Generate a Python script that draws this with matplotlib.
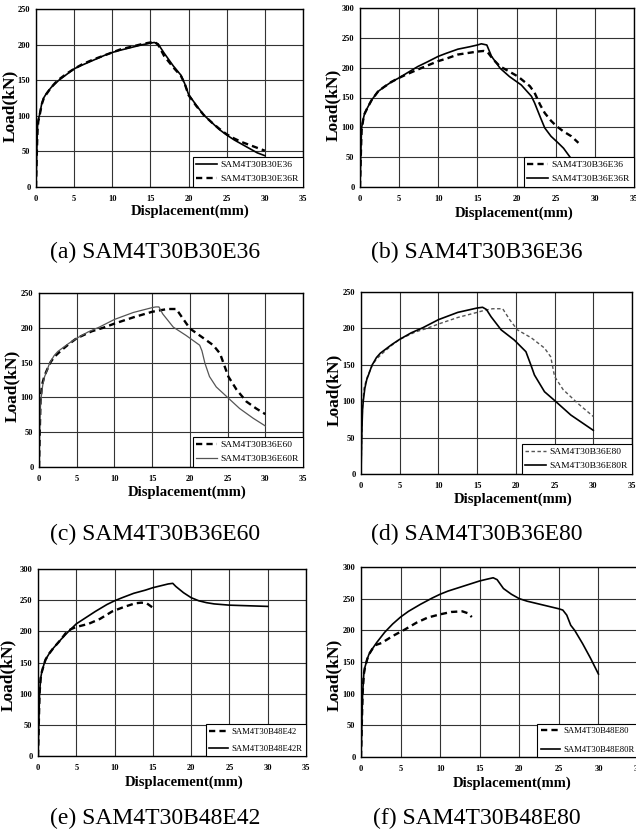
import matplotlib.pyplot as plt

plt.rcParams['font.family'] = ['Liberation Serif', 'DejaVu Serif']
plt.rcParams['lines.scale_dashes'] = False

X_TICKS = [0, 5, 10, 15, 20, 25, 30, 35]

# (a) SAM4T30B30E36
a_names = ["SAM4T30B30E36", "SAM4T30B30E36R"]
a_disp = [0, 0.1, 0.2, 0.3, 0.5, 0.75, 1, 1.4, 2, 2.5, 3, 4, 5, 6, 7.5, 9, 10, 11, 12.5,
          14, 15, 15.5, 16, 16.8, 18, 19, 19.5, 20, 21, 22, 23, 24, 25, 26, 27, 28, 29, 30]
a_load = [0, 50, 85, 94, 103, 117, 125, 132, 140, 145, 150, 158, 166, 171, 178, 185, 189, 192, 196,
          200, 202, 203, 201, 188, 170, 157, 145, 130, 115, 101, 91, 81, 73, 66, 60, 54, 48, 44]
a_disp_r = a_disp
a_load_r = [0, 45, 80, 92, 102, 116, 124, 131, 140, 146, 151, 159, 166, 172, 179, 185, 189, 193, 197,
            201, 203, 204, 200, 184, 168, 156, 145, 129, 114, 101, 91, 82, 74, 68, 63, 59, 55, 51]

# (b) SAM4T30B36E36
b_names = ["SAM4T30B36E36", "SAM4T30B36E36R"]
b_disp = [0, 0.1, 0.2, 0.4, 0.6, 1, 1.5, 2.3, 3, 4, 5, 6, 7.4, 8.5, 10, 11, 12.5, 14, 15, 15.8,
          16.3, 17, 17.9, 19, 20.2, 21.7, 22.3, 23, 23.6, 24.4, 25.1, 26, 27, 27.9]
b_load = [0, 50, 95, 112, 123, 134, 146, 160, 167, 176, 183, 189, 197, 203, 211, 215, 222, 225, 227, 228,
          226, 214, 202, 194, 185, 169, 158, 138, 124, 111, 102, 93, 85, 74]
b_disp_r = [0, 0.1, 0.2, 0.4, 0.6, 1, 1.5, 2.3, 3, 4, 5, 6, 7.4, 8.5, 10, 11, 12.5, 14, 15, 15.5,
            16.2, 16.8, 17.9, 19.1, 20.6, 21.9, 22.3, 23, 23.6, 24.4, 25.3, 26, 27, 28]
b_load_r = [0, 55, 99, 113, 124, 134, 146, 160, 167, 176, 183, 191, 202, 209, 219, 224, 231, 235, 238, 240,
            238, 219, 199, 185, 171, 152, 141, 118, 99, 85, 74, 65, 47, 32]

# (c) SAM4T30B36E60
c_names = ["SAM4T30B36E60", "SAM4T30B36E60R"]
c_disp = [0, 0.1, 0.2, 0.4, 0.7, 1, 1.5, 2, 3, 4, 5, 6, 7, 8.5, 10, 12.5, 15, 16, 17, 18.2,
          18.9, 20, 21.3, 23.1, 24, 24.4, 25.1, 26.2, 27.5, 28.8, 30]
c_load = [0, 50, 95, 118, 130, 138, 150, 158, 168, 177, 185, 190, 195, 200, 206, 215, 223, 225, 227, 227,
          216, 199, 189, 175, 163, 151, 130, 111, 94, 84, 76]
c_disp_r = [0, 0.1, 0.2, 0.3, 0.5, 0.75, 1, 1.4, 2, 2.5, 3, 4, 5, 6.5, 8, 10, 12.5, 15, 15.5, 15.9,
            16.4, 17.8, 19.5, 21.3, 21.6, 22, 22.6, 23.5, 25.1, 26.6, 28.4, 30]
c_load_r = [0, 55, 88, 101, 118, 130, 137, 149, 160, 166, 170, 178, 185, 194, 201, 212, 222, 229, 230, 230,
            220, 201, 189, 175, 167, 149, 130, 115, 99, 84, 70, 59]

# (d) SAM4T30B36E80
d_names = ["SAM4T30B36E80", "SAM4T30B36E80R"]
d_disp = [0, 0.1, 0.2, 0.4, 0.7, 1, 1.5, 2, 3, 4, 5, 6, 7, 8.5, 10, 12.5, 15, 16, 17, 18.3,
          19.2, 20.2, 22, 23.7, 24.5, 25, 26.1, 28, 30]
d_load = [0, 50, 95, 118, 130, 138, 150, 158, 168, 177, 185, 190, 195, 200, 206, 215, 222, 225, 227, 227,
          212, 198, 187, 173, 161, 134, 116, 97, 79]
d_disp_r = [0, 0.1, 0.2, 0.3, 0.5, 0.75, 1, 1.4, 2, 2.5, 3, 4, 5, 6.5, 8, 10, 12.5, 15, 15.7, 16.2,
            16.8, 18.1, 19.8, 21.3, 22, 22.4, 23.7, 25, 27.1, 30]
d_load_r = [0, 55, 88, 101, 118, 130, 137, 149, 160, 166, 170, 178, 185, 194, 201, 212, 222, 228, 229, 226,
            216, 198, 184, 168, 148, 136, 113, 101, 81, 60]

# (e) SAM4T30B48E42
e_names = ["SAM4T30B48E42", "SAM4T30B48E42R"]
e_disp = [0, 0.1, 0.2, 0.35, 0.5, 0.8, 1, 1.5, 2, 3, 3.8, 4.4, 5, 6.6, 8.1, 9.7, 11.2, 12.7,
          13.5, 14.2, 15.1]
e_load = [0, 50, 100, 125, 135, 148, 155, 165, 173, 187, 200, 204, 207, 212, 220, 232, 239, 245,
          246, 245, 237]
e_disp_r = [0, 0.1, 0.2, 0.35, 0.5, 0.8, 1, 1.5, 2, 3, 4, 5, 6, 7.5, 9, 10, 11, 12.5, 14, 15,
            16, 17, 17.6, 18, 19, 20, 21, 22, 23, 25, 27.5, 30]
e_load_r = [0, 50, 100, 125, 135, 148, 155, 165, 173, 187, 200, 212, 220, 232, 243, 249, 254, 261, 266, 270,
            273, 276, 277, 272, 262, 254, 249, 246, 244, 242, 241, 240]

# (f) SAM4T30B48E80
f_names = ["SAM4T30B48E80", "SAM4T30B48E80R"]
f_disp = [0, 0.1, 0.2, 0.35, 0.5, 0.8, 1, 1.5, 1.9, 2.6, 4, 5.5, 7, 8.4, 9.9, 11.4, 12.8, 13.5, 14]
f_load = [0, 50, 100, 130, 142, 155, 162, 172, 177, 180, 191, 201, 212, 220, 225, 229, 230, 227, 221]
f_disp_r = [0, 0.1, 0.2, 0.35, 0.5, 0.8, 1, 1.5, 2, 3, 4, 5, 6, 7.5, 9, 10, 11, 12.5, 14, 15,
            16, 16.7, 17.2, 18, 19, 20, 21, 22, 23, 24, 25, 25.5, 26, 26.5, 27, 28, 29, 30]
f_load_r = [0, 50, 100, 130, 142, 155, 162, 172, 181, 197, 210, 221, 230, 241, 251, 257, 262, 268, 274, 278,
            281, 283, 280, 266, 257, 250, 246, 243, 240, 237, 234, 232, 224, 208, 200, 179, 156, 131]

FIG_W, FIG_H = 636, 835

SOLID = dict(color="black", lw=1.2, ls="-")
SOLID_GRAY = dict(color="#555555", lw=0.9, ls="-")
DASHED = dict(color="black", lw=1.7, dashes=(4.5, 3))
DASHED_GRAY = dict(color="#555555", lw=1.0, dashes=(2.5, 1.8))


def add_panel(fig, box, ymax, curves, ylabel_xy, xlabel_xy, caption, caption_xy,
              spacing=0.55, legend_size=6.8):
    """1つのグラフ枠を描く。box はピクセル単位 (左, 上, 右, 下)。"""
    left, top, right, bottom = box
    ax = fig.add_axes([left / FIG_W, 1 - bottom / FIG_H,
                       (right - left) / FIG_W, (bottom - top) / FIG_H])

    for disp, load, name, style in curves:
        ax.plot(disp, load, label=name, **style)

    ax.set_xlim(0, 35)
    ax.set_ylim(0, ymax)
    ax.set_xticks(X_TICKS)
    ax.set_yticks(range(0, ymax + 1, 50))
    ax.grid(True, color="#333333", lw=0.8)
    ax.set_axisbelow(True)
    ax.tick_params(length=0, labelsize=6)
    ax.tick_params(axis="x", pad=6)
    ax.tick_params(axis="y", pad=4)
    for lab in ax.get_xticklabels() + ax.get_yticklabels():
        lab.set_fontweight("bold")
    for sp in ax.spines.values():
        sp.set_linewidth(1.0)
        sp.set_color("black")

    ax.set_xlabel("Displacement(mm)", fontsize=10.5, fontweight="bold")
    ax.set_ylabel("Load(kN)", fontsize=12.5, fontweight="bold")
    ax.xaxis.set_label_coords(*xlabel_xy)
    ax.yaxis.set_label_coords(*ylabel_xy)

    leg = ax.legend(loc="lower right", borderaxespad=0, fancybox=False,
                    edgecolor="black", framealpha=1, fontsize=legend_size,
                    handlelength=2.2, handletextpad=0.4, borderpad=0.4,
                    labelspacing=spacing)
    leg.get_frame().set_linewidth(0.8)

    fig.text(caption_xy[0] / FIG_W, 1 - caption_xy[1] / FIG_H, caption,
             ha="center", va="center", fontsize=17)
    return ax


fig = plt.figure(figsize=(FIG_W / 100, FIG_H / 100), dpi=100)

add_panel(fig, (36, 9, 303, 187), 250,
          [(a_disp, a_load, a_names[0], SOLID),
           (a_disp_r, a_load_r, a_names[1], DASHED)],
          (-0.066, 0.455), (0.577, -0.10), "(a) SAM4T30B30E36", (155, 252))

add_panel(fig, (360, 8, 634, 187), 300,
          [(b_disp, b_load, b_names[0], DASHED),
           (b_disp_r, b_load_r, b_names[1], SOLID)],
          (-0.068, 0.458), (0.562, -0.11), "(b) SAM4T30B36E36", (477, 252))

add_panel(fig, (39, 293, 303, 467), 250,
          [(c_disp, c_load, c_names[0], DASHED),
           (c_disp_r, c_load_r, c_names[1], SOLID_GRAY)],
          (-0.072, 0.468), (0.5625, -0.108), "(c) SAM4T30B36E60", (155, 534))

add_panel(fig, (361, 292, 632, 474), 250,
          [(d_disp, d_load, d_names[0], DASHED_GRAY),
           (d_disp_r, d_load_r, d_names[1], SOLID)],
          (-0.070, 0.464), (0.561, -0.104), "(d) SAM4T30B36E80", (477, 534))

add_panel(fig, (38, 569, 306, 756), 300,
          [(e_disp, e_load, e_names[0], DASHED),
           (e_disp_r, e_load_r, e_names[1], SOLID)],
          (-0.080, 0.433), (0.545, -0.102), "(e) SAM4T30B48E42", (155, 818),
          spacing=1.0, legend_size=6.2)

add_panel(fig, (361, 567, 638, 757), 300,
          [(f_disp, f_load, f_names[0], DASHED),
           (f_disp_r, f_load_r, f_names[1], SOLID)],
          (-0.069, 0.434), (0.545, -0.105), "(f) SAM4T30B48E80", (477, 818),
          spacing=1.2, legend_size=6.2)

fig.savefig("out.png", dpi=100)
